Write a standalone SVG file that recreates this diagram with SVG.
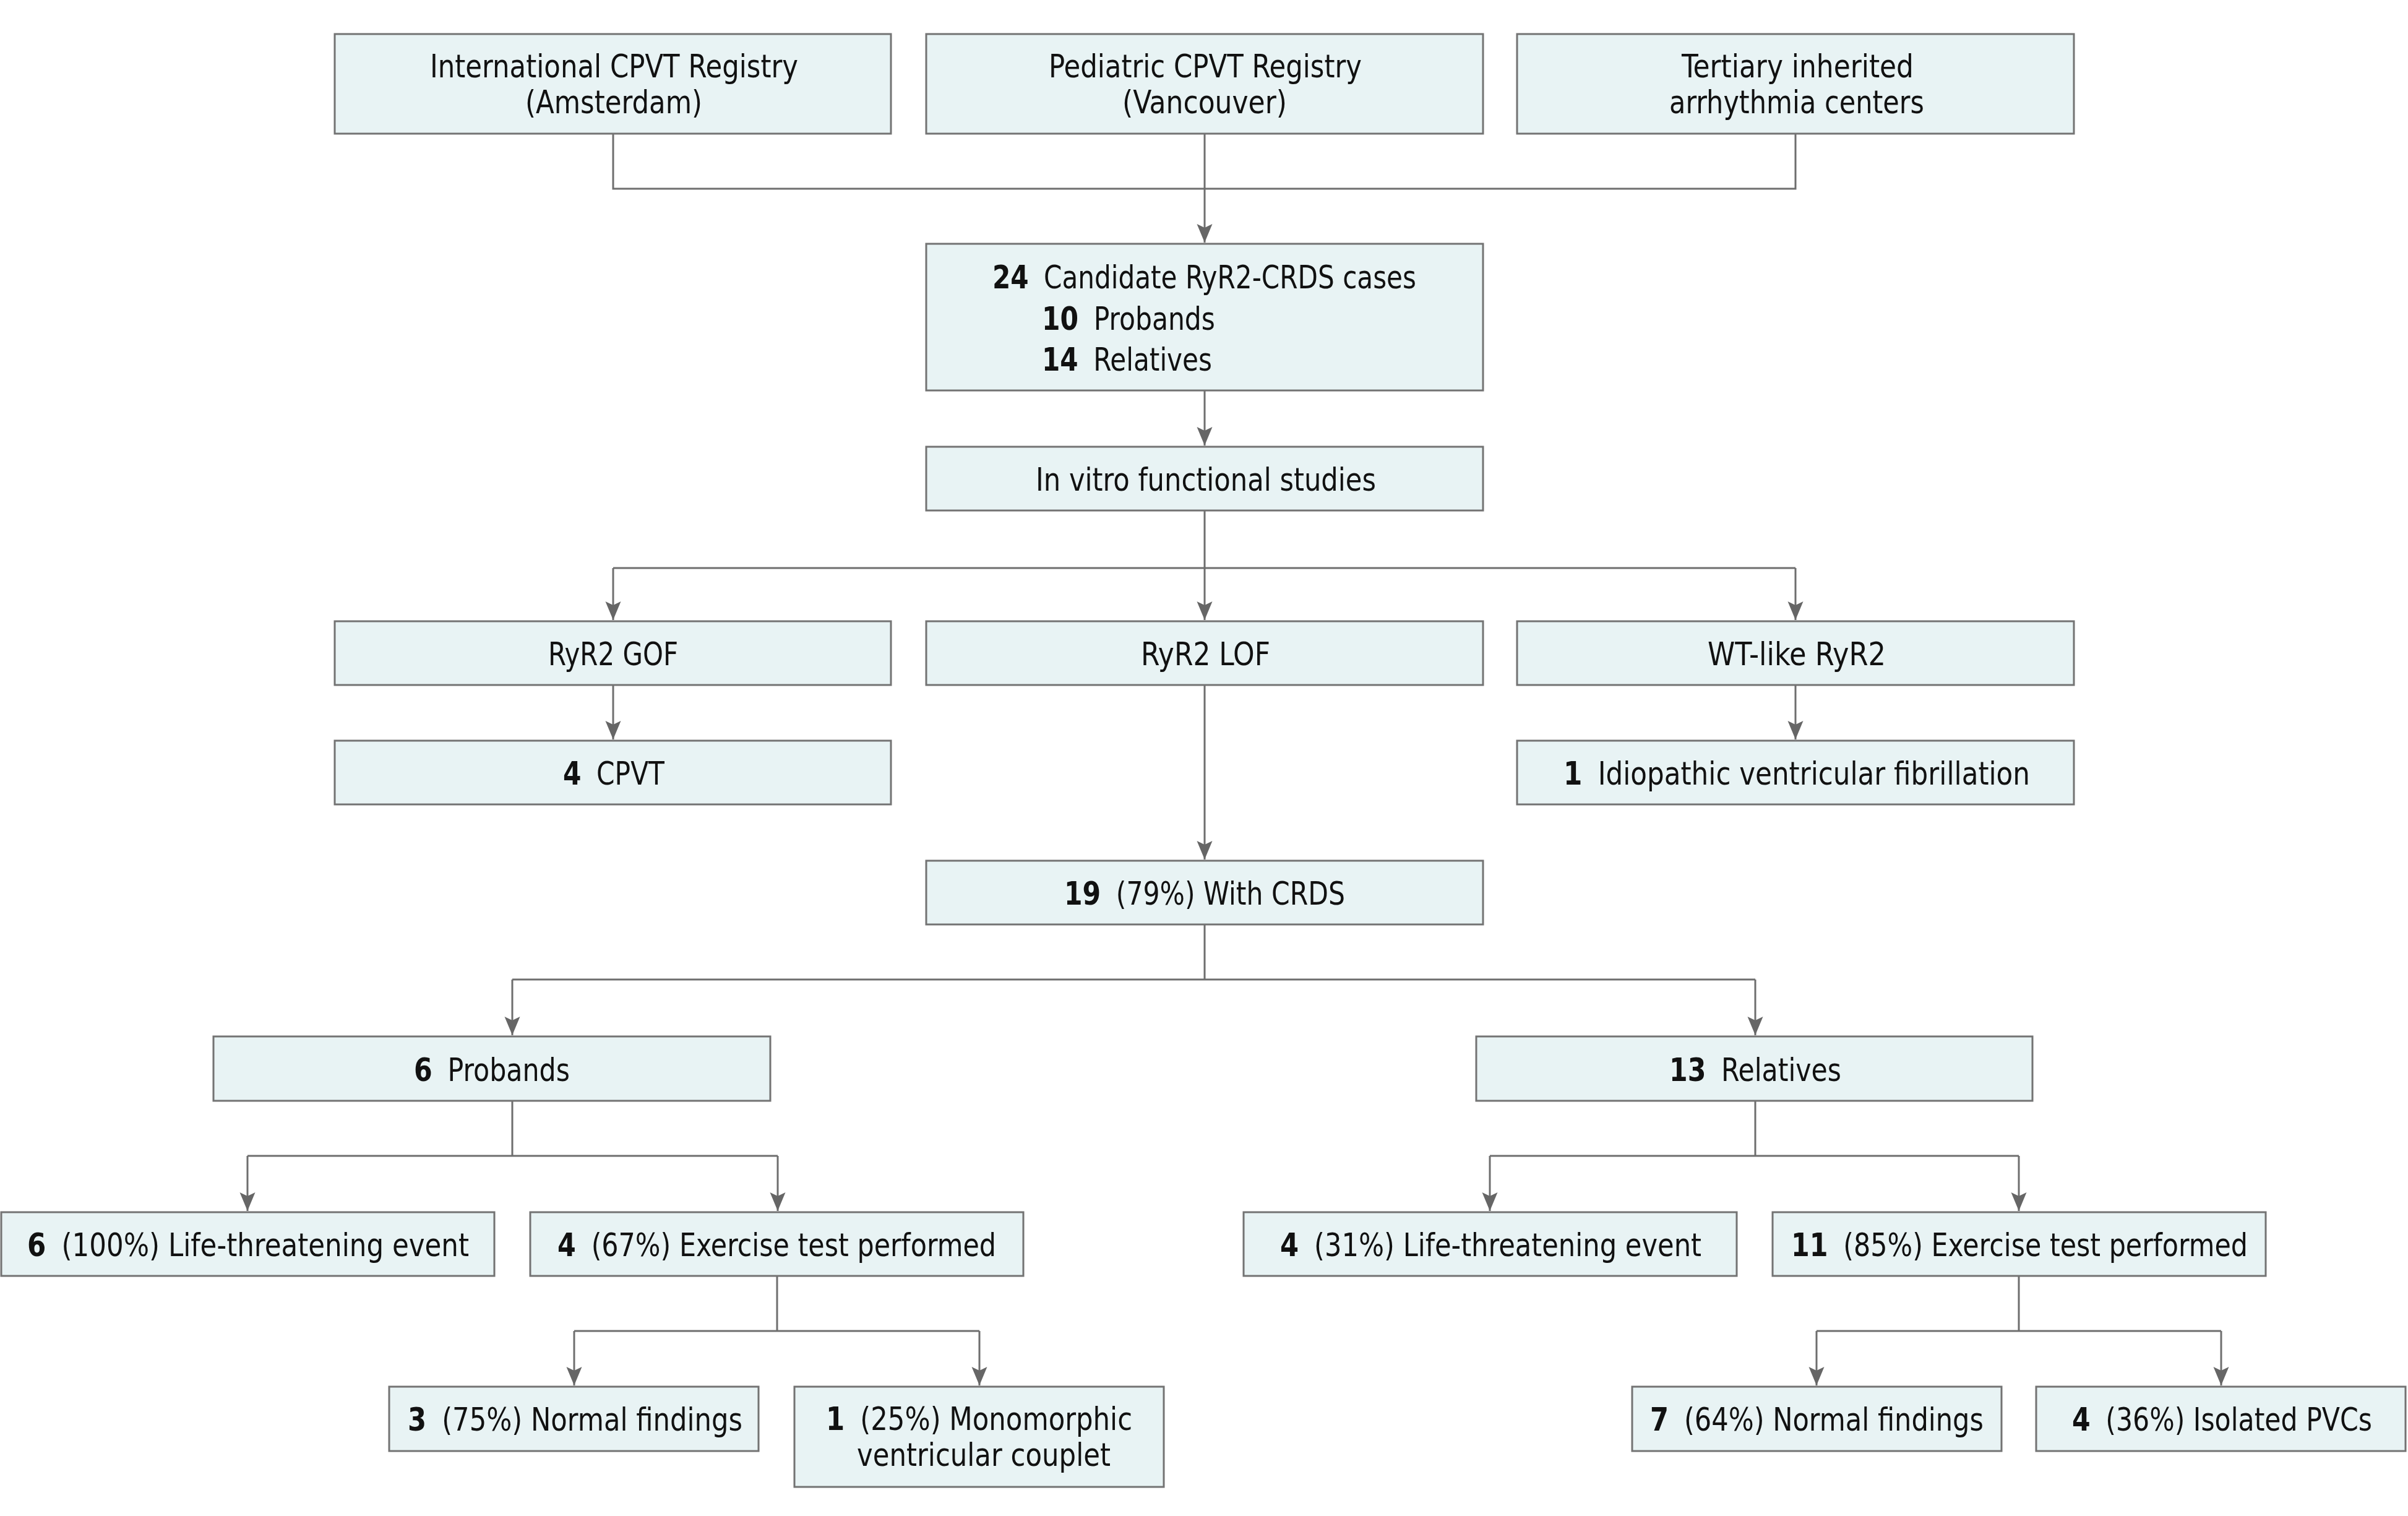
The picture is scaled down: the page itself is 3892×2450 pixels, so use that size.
<svg xmlns="http://www.w3.org/2000/svg" width="3892" height="2450" viewBox="0 0 3892 2450">
<style>
.bg{fill:#ffffff}
.box{fill:#e8f3f4;stroke:#737373;stroke-width:3}
.t{font-family:'Liberation Sans Narrow','DejaVu Sans Condensed','Liberation Sans',sans-serif;font-size:51px;fill:#111111}
.b{font-weight:bold}
.c{fill:none;stroke:#6e6e6e;stroke-width:3}
.a{fill:none;stroke:#6e6e6e;stroke-width:3;marker-end:url(#arr)}
</style>
<defs>
<marker id="arr" markerUnits="userSpaceOnUse" markerWidth="32" markerHeight="26" refX="30" refY="13" orient="auto" viewBox="0 0 32 26">
<path d="M0,0.5 L30,13 L0,25.5 L6,13 Z" fill="#666666"/>
</marker>
</defs>
<rect class="bg" x="0" y="0" width="3892" height="2450"/>

<g id="connectors">
<path class="c" d="M991,216 V305 H2902 V216"/>
<path class="a" d="M1947,216 V392"/>
<path class="a" d="M1947,631 V720"/>
<path class="c" d="M1947,825 V918 M991,918 H2902"/>
<path class="a" d="M991,918 V1002"/>
<path class="a" d="M1947,918 V1002"/>
<path class="a" d="M2902,918 V1002"/>
<path class="a" d="M991,1107 V1195"/>
<path class="a" d="M2902,1107 V1195"/>
<path class="a" d="M1947,1107 V1389"/>
<path class="c" d="M1947,1494 V1583 M828,1583 H2837"/>
<path class="a" d="M828,1583 V1673"/>
<path class="a" d="M2837,1583 V1673"/>
<path class="c" d="M828,1779 V1868 M400,1868 H1257"/>
<path class="a" d="M400,1868 V1957"/>
<path class="a" d="M1257,1868 V1957"/>
<path class="c" d="M1256,2062 V2151 M928,2151 H1583"/>
<path class="a" d="M928,2151 V2239"/>
<path class="a" d="M1583,2151 V2239"/>
<path class="c" d="M2837,1779 V1868 M2408,1868 H3263"/>
<path class="a" d="M2408,1868 V1957"/>
<path class="a" d="M3263,1868 V1957"/>
<path class="c" d="M3263,2062 V2151 M2936,2151 H3590"/>
<path class="a" d="M2936,2151 V2239"/>
<path class="a" d="M3590,2151 V2239"/>
</g>

<g id="n-amsterdam">
<rect class="box" x="541" y="55" width="899" height="161"/>
<text class="t" x="695" y="125" textLength="595" lengthAdjust="spacingAndGlyphs">International CPVT Registry</text>
<text class="t" x="849" y="183" textLength="286" lengthAdjust="spacingAndGlyphs">(Amsterdam)</text>
</g>
<g id="n-vancouver">
<rect class="box" x="1497" y="55" width="900" height="161"/>
<text class="t" x="1695" y="125" textLength="506" lengthAdjust="spacingAndGlyphs">Pediatric CPVT Registry</text>
<text class="t" x="1814" y="183" textLength="266" lengthAdjust="spacingAndGlyphs">(Vancouver)</text>
</g>
<g id="n-tertiary">
<rect class="box" x="2452" y="55" width="900" height="161"/>
<text class="t" x="2718" y="125" textLength="375" lengthAdjust="spacingAndGlyphs">Tertiary inherited</text>
<text class="t" x="2698" y="183" textLength="412" lengthAdjust="spacingAndGlyphs">arrhythmia centers</text>
</g>
<g id="n-candidates">
<rect class="box" x="1497" y="394" width="900" height="237"/>
<text class="t" x="1604" y="466" textLength="685" lengthAdjust="spacingAndGlyphs"><tspan class="b">24</tspan><tspan dx="12"> Candidate RyR2-CRDS cases</tspan></text>
<text class="t" x="1684" y="533" textLength="280" lengthAdjust="spacingAndGlyphs"><tspan class="b">10</tspan><tspan dx="12"> Probands</tspan></text>
<text class="t" x="1684" y="599" textLength="275" lengthAdjust="spacingAndGlyphs"><tspan class="b">14</tspan><tspan dx="12"> Relatives</tspan></text>
</g>
<g id="n-invitro">
<rect class="box" x="1497" y="722" width="900" height="103"/>
<text class="t" x="1674" y="793" textLength="550" lengthAdjust="spacingAndGlyphs">In vitro functional studies</text>
</g>
<g id="n-gof">
<rect class="box" x="541" y="1004" width="899" height="103"/>
<text class="t" x="886" y="1075" textLength="210" lengthAdjust="spacingAndGlyphs">RyR2 GOF</text>
</g>
<g id="n-lof">
<rect class="box" x="1497" y="1004" width="900" height="103"/>
<text class="t" x="1844" y="1075" textLength="209" lengthAdjust="spacingAndGlyphs">RyR2 LOF</text>
</g>
<g id="n-wt">
<rect class="box" x="2452" y="1004" width="900" height="103"/>
<text class="t" x="2760" y="1075" textLength="288" lengthAdjust="spacingAndGlyphs">WT-like RyR2</text>
</g>
<g id="n-cpvt">
<rect class="box" x="541" y="1197" width="899" height="103"/>
<text class="t" x="910" y="1268" textLength="164" lengthAdjust="spacingAndGlyphs"><tspan class="b">4</tspan><tspan dx="12"> CPVT</tspan></text>
</g>
<g id="n-ivf">
<rect class="box" x="2452" y="1197" width="900" height="103"/>
<text class="t" x="2527" y="1268" textLength="754" lengthAdjust="spacingAndGlyphs"><tspan class="b">1</tspan><tspan dx="12"> Idiopathic ventricular fibrillation</tspan></text>
</g>
<g id="n-crds">
<rect class="box" x="1497" y="1391" width="900" height="103"/>
<text class="t" x="1720" y="1462" textLength="454" lengthAdjust="spacingAndGlyphs"><tspan class="b">19</tspan><tspan dx="12"> (79%) With CRDS</tspan></text>
</g>
<g id="n-probands">
<rect class="box" x="345" y="1675" width="900" height="104"/>
<text class="t" x="669" y="1747" textLength="252" lengthAdjust="spacingAndGlyphs"><tspan class="b">6</tspan><tspan dx="12"> Probands</tspan></text>
</g>
<g id="n-relatives">
<rect class="box" x="2386" y="1675" width="899" height="104"/>
<text class="t" x="2698" y="1747" textLength="278" lengthAdjust="spacingAndGlyphs"><tspan class="b">13</tspan><tspan dx="12"> Relatives</tspan></text>
</g>
<g id="n-p-lte">
<rect class="box" x="2" y="1959" width="797" height="103"/>
<text class="t" x="44" y="2030" textLength="714" lengthAdjust="spacingAndGlyphs"><tspan class="b">6</tspan><tspan dx="12"> (100%) Life-threatening event</tspan></text>
</g>
<g id="n-p-ex">
<rect class="box" x="857" y="1959" width="797" height="103"/>
<text class="t" x="901" y="2030" textLength="709" lengthAdjust="spacingAndGlyphs"><tspan class="b">4</tspan><tspan dx="12"> (67%) Exercise test performed</tspan></text>
</g>
<g id="n-p-normal">
<rect class="box" x="629" y="2241" width="597" height="104"/>
<text class="t" x="659" y="2312" textLength="541" lengthAdjust="spacingAndGlyphs"><tspan class="b">3</tspan><tspan dx="12"> (75%) Normal findings</tspan></text>
</g>
<g id="n-p-mono">
<rect class="box" x="1284" y="2241" width="597" height="162"/>
<text class="t" x="1335" y="2311" textLength="495" lengthAdjust="spacingAndGlyphs"><tspan class="b">1</tspan><tspan dx="12"> (25%) Monomorphic</tspan></text>
<text class="t" x="1385" y="2369" textLength="410" lengthAdjust="spacingAndGlyphs">ventricular couplet</text>
</g>
<g id="n-r-lte">
<rect class="box" x="2010" y="1959" width="797" height="103"/>
<text class="t" x="2069" y="2030" textLength="681" lengthAdjust="spacingAndGlyphs"><tspan class="b">4</tspan><tspan dx="12"> (31%) Life-threatening event</tspan></text>
</g>
<g id="n-r-ex">
<rect class="box" x="2865" y="1959" width="797" height="103"/>
<text class="t" x="2895" y="2030" textLength="738" lengthAdjust="spacingAndGlyphs"><tspan class="b">11</tspan><tspan dx="12"> (85%) Exercise test performed</tspan></text>
</g>
<g id="n-r-normal">
<rect class="box" x="2638" y="2241" width="597" height="104"/>
<text class="t" x="2667" y="2312" textLength="539" lengthAdjust="spacingAndGlyphs"><tspan class="b">7</tspan><tspan dx="12"> (64%) Normal findings</tspan></text>
</g>
<g id="n-r-pvc">
<rect class="box" x="3291" y="2241" width="597" height="104"/>
<text class="t" x="3349" y="2312" textLength="485" lengthAdjust="spacingAndGlyphs"><tspan class="b">4</tspan><tspan dx="12"> (36%) Isolated PVCs</tspan></text>
</g>
</svg>
